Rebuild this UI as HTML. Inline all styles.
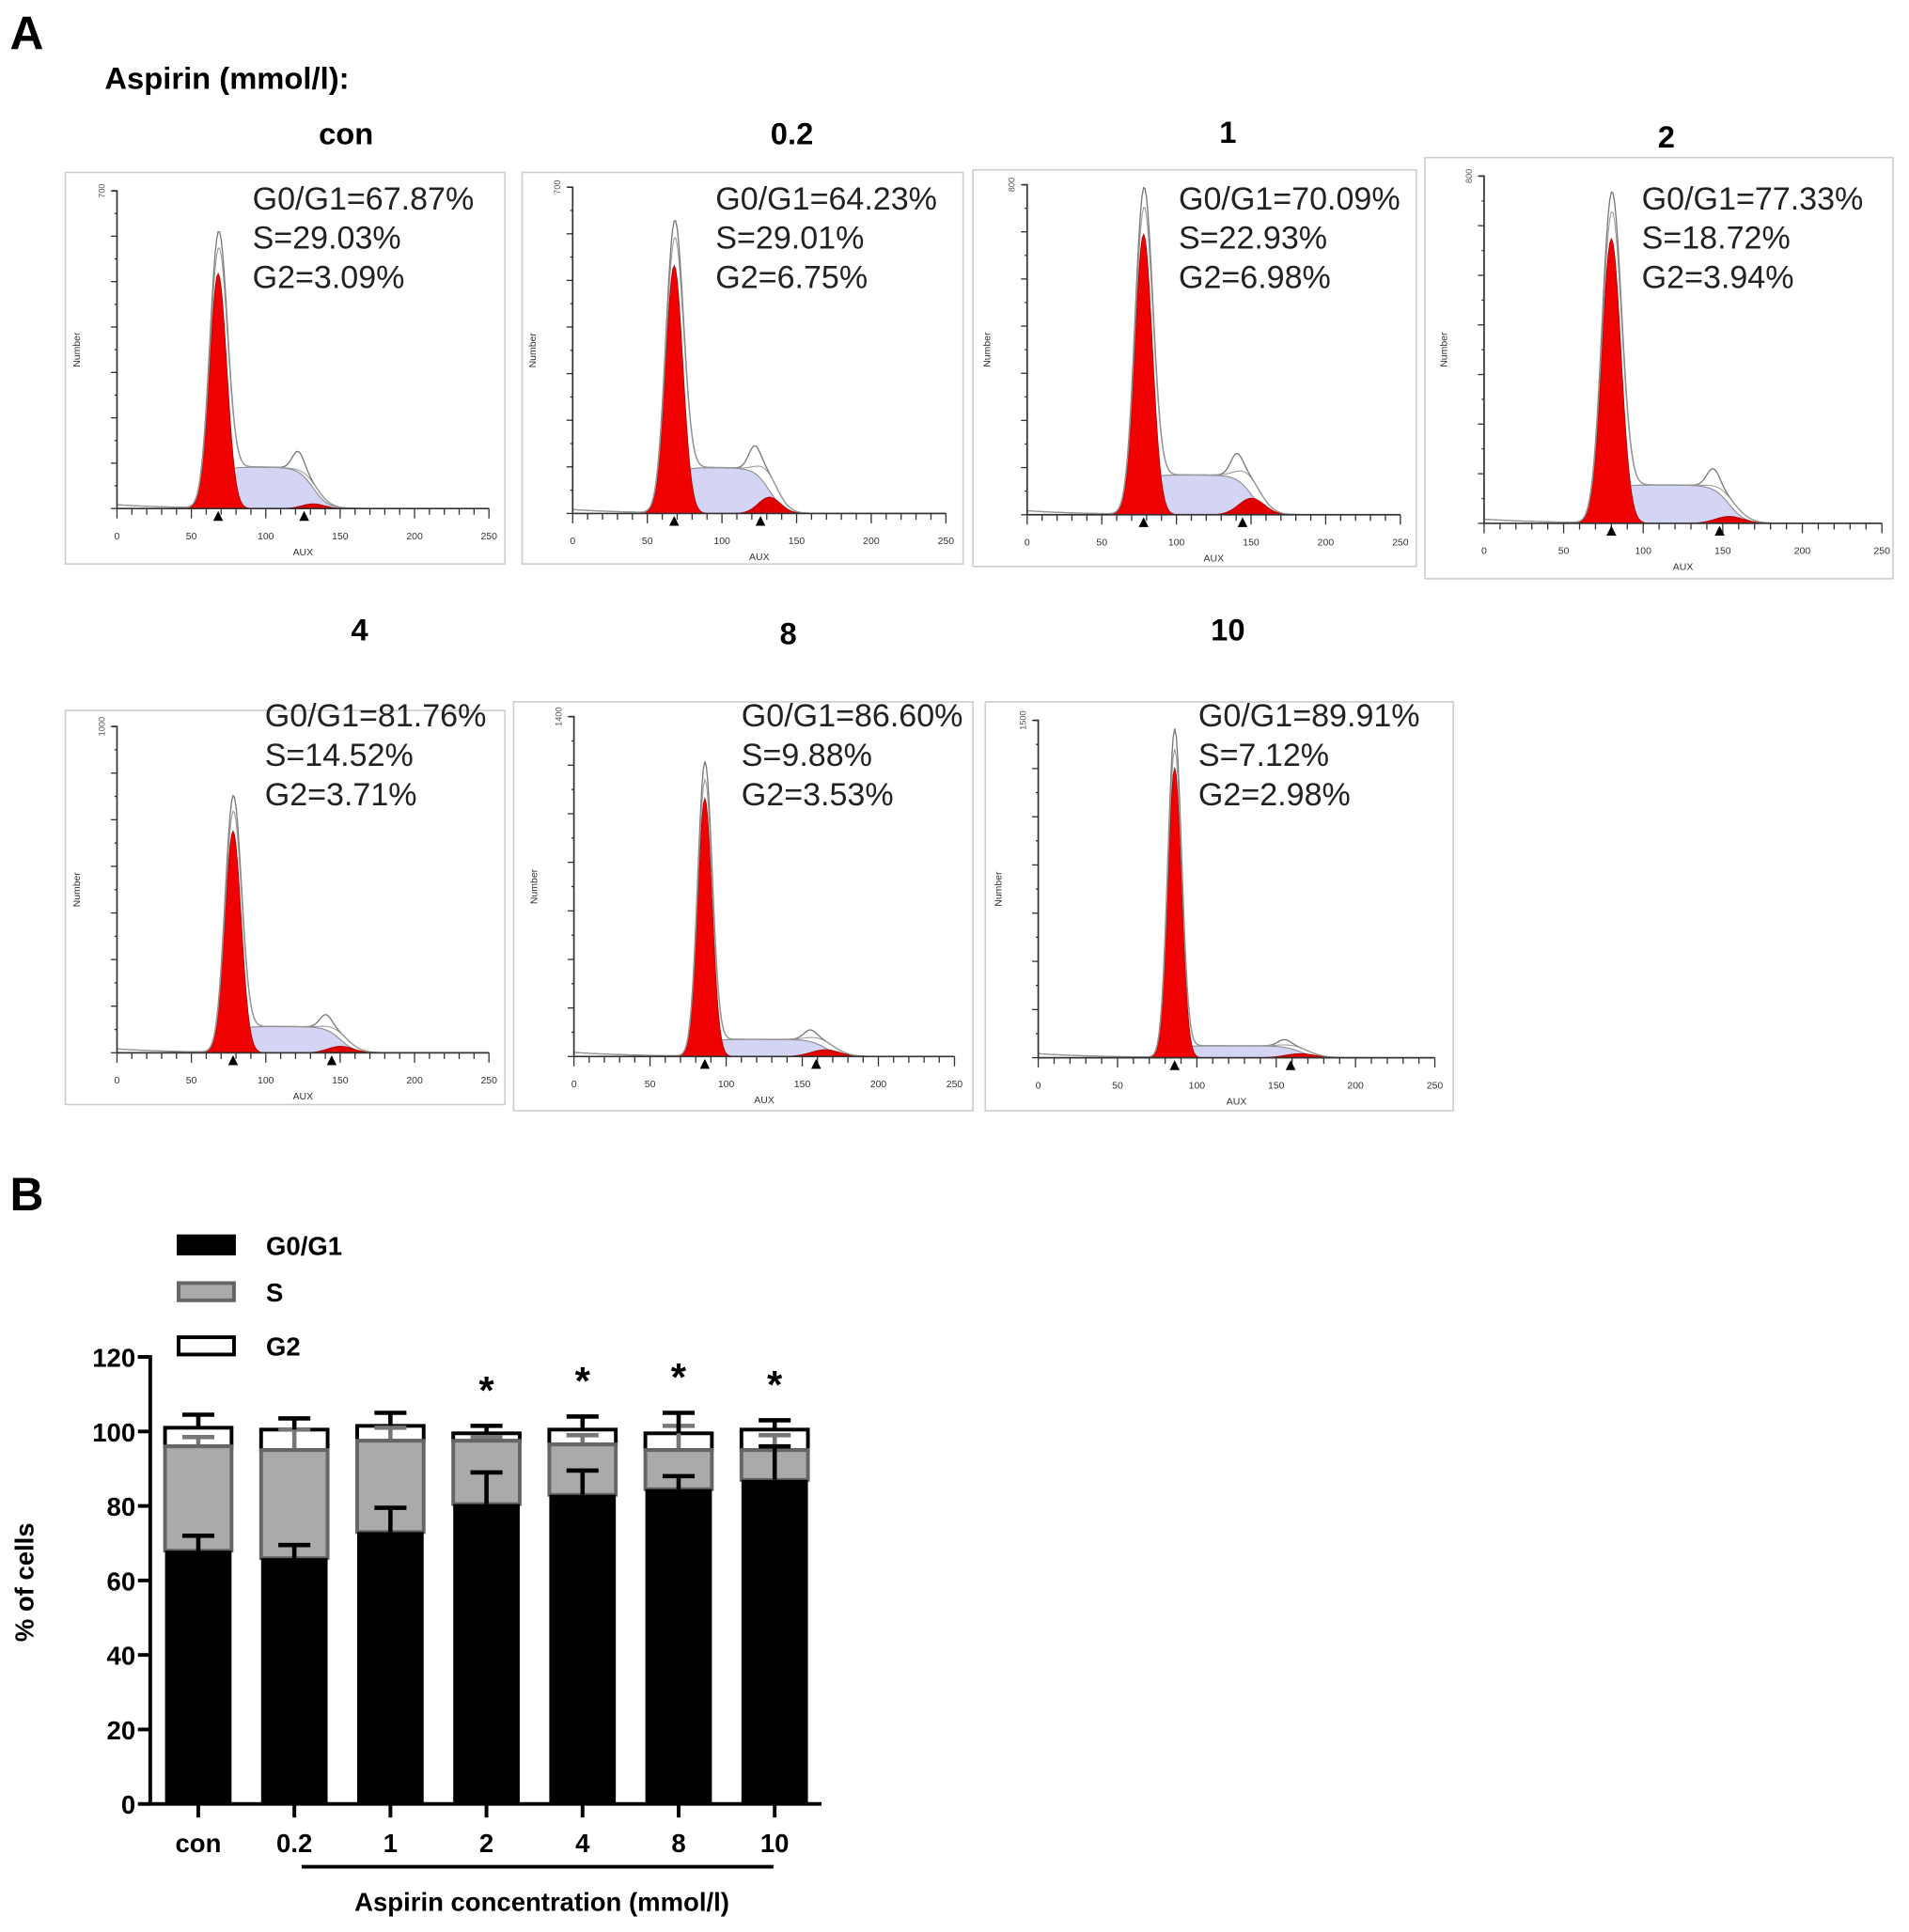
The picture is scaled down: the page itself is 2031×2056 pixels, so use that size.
<!DOCTYPE html>
<html><head><meta charset="utf-8"><style>
html,body{margin:0;padding:0;background:#fff;}
svg{display:block;}
text{font-family:"Liberation Sans",Arial,sans-serif;}
</style></head><body>
<svg id="fig" width="2031" height="2056" viewBox="0 0 1550 1569" preserveAspectRatio="none" xmlns="http://www.w3.org/2000/svg">
<text x="8" y="40" font-size="38" font-weight="bold">A</text>
<text x="85" y="72" font-size="25" font-weight="bold">Aspirin (mmol/l):</text>
<g id="histos"></g>
<text x="8" y="983" font-size="38" font-weight="bold">B</text>
<g id="bars"></g>
</svg>
<script>
// ---- Panel A data ----
const histTitles = ["con","0.2","1","2","4","8","10"];
const histG1 = ["67.87","64.23","70.09","77.33","81.76","86.60","89.91"];
const histS = ["29.03","29.01","22.93","18.72","14.52","9.88","7.12"];
const histG2 = ["3.09","6.75","6.98","3.94","3.71","3.53","2.98"];
const histMu = [68,68,78,80,78,86,86];
const histPeak = [0.74,0.76,0.85,0.82,0.68,0.76,0.86];
const histSh = [0.13,0.14,0.12,0.11,0.08,0.05,0.035];
const histG2h = [0.015,0.05,0.05,0.02,0.02,0.02,0.012];
const histSd = [0.085,0.085,0.075,0.075,0.07,0.055,0.05];
const histYmax = ["700","700","800","800","1000","1400","1500"];
// layout (not data)
const boxes=[[53,140,357,318,95,397,413,155,205,161,281,108],[424,140,358,318,465,768,417,152,581,161,643,108],
[790,138,360,322,834,1137,418,150,957,161,997,107],[1157,128,380,342,1205,1528,425,143,1333,161,1353,111],
[53,577,357,320,95,397,855,590,215,581,292,511],[417,570,373,332,466,775,858,582,602,581,640,514],
[800,570,380,332,843,1165,859,585,973,581,997,511]];
const NS="http://www.w3.org/2000/svg";
function mk(tag,attrs,parent){const e=document.createElementNS(NS,tag);for(const k in attrs)e.setAttribute(k,attrs[k]);parent.appendChild(e);return e;}
const hg=document.getElementById('histos');
boxes.forEach((b,i)=>{
  const [bx,by,bw,bh,ax,ax1,yz,yt,tx,ty,ttx,tty]=b;
  const g=mk('g',{},hg);
  
  
  const t=mk('text',{x:ttx,y:tty+9,'font-size':25,'font-weight':'bold','text-anchor':'middle'},g);t.textContent=histTitles[i];
  
  
  const r=mk('rect',{x:bx,y:by,width:bw,height:bh,fill:'#fff',stroke:'#ccc','stroke-width':1.2},g);
  
  
  const X=c=>ax+(ax1-ax)*c/250, H=yz-yt, Y=f=>yz-H*f;
  const mu=histMu[i],sd=mu*histSd[i],mu2=mu*1.85,sd2=mu*0.11;
  const g1=c=>histPeak[i]*Math.exp(-0.5*((c-mu)/sd)**2);
  const sP=c=>{const a=1/(1+Math.exp(-(c-mu-2)/2.5)),d=1/(1+Math.exp((c-mu2-6)/5));return histSh[i]*a*d;};
  const g2=c=>histG2h[i]*Math.exp(-0.5*((c-mu2-6)/sd2)**2);
  let pS=`M${X(mu-10)},${yz}`,pR=`M${X(mu-25)},${yz}`,pR2=`M${X(mu2-30)},${yz}`,pE='',pE2='';
  for(let c=0;c<=250;c+=1){
    const bg=0.012*Math.exp(-c/40);
    if(c>=mu-10&&c<=mu2+40)pS+=` L${X(c)},${Y(sP(c))}`;
    if(c>=mu-25&&c<=mu+25)pR+=` L${X(c)},${Y(g1(c))}`;
    if(c>=mu2-30&&c<=mu2+35)pR2+=` L${X(c)},${Y(g2(c))}`;
    const env=g1(c)*1.12+sP(c)+g2(c)+bg+histSh[i]*0.45*Math.exp(-0.5*((c-mu2+4)/4)**2);
    pE+=(c?' L':'M')+X(c)+','+Y(env);
    pE2+=(c?' L':'M')+X(c)+','+Y(g1(c)*1.05+sP(c)+g2(c)+bg);
  }
  pS+=` L${X(mu2+40)},${yz} Z`;pR+=` L${X(mu+25)},${yz} Z`;pR2+=` L${X(mu2+35)},${yz} Z`;
  const s=mk('path',{d:pS,fill:'#d4d4f4',stroke:'#888','stroke-width':0.8},g);
  
  
  const rr=mk('path',{d:pR,fill:'#f00000',stroke:'#a00','stroke-width':0.6},g);
  
  
  const r2=mk('path',{d:pR2,fill:'#e00000',stroke:'#a00','stroke-width':0.6},g);
  
  
  mk('path',{d:pE,fill:'none',stroke:'#777','stroke-width':1},g);
  mk('path',{d:pE2,fill:'none',stroke:'#999','stroke-width':0.8},g);
  const ya=mk('path',{d:`M${ax-4},${yt} H${ax} V${yz} H${ax1}`,fill:'none',stroke:'#333','stroke-width':1.3},g);
  
  
  for(let k=0;k<=25;k++){mk('line',{x1:X(k*10),x2:X(k*10),y1:yz,y2:yz+(k%5?5:8),stroke:'#333','stroke-width':1},g);}
  for(let k=0;k<=5;k++){const tl=mk('text',{x:X(k*50),y:yz+25,'font-size':8,'text-anchor':'middle',fill:'#333'},g);tl.textContent=k*50;}
  for(let k=0;k<=14;k++){const yy=yz-(H)*k/14;mk('line',{x1:ax-(k%2?2:5),x2:ax,y1:yy,y2:yy,stroke:'#333','stroke-width':1},g);}
  const ax2=mk('text',{x:(ax+ax1)/2,y:yz+38,'font-size':8,'text-anchor':'middle',fill:'#333'},g);ax2.textContent='AUX';
  const ny=mk('text',{x:0,y:0,'font-size':8,'text-anchor':'middle',fill:'#333',transform:`translate(${ax-30},${(yz+yt)/2}) rotate(-90)`},g);ny.textContent='Number';
  const ym=mk('text',{x:0,y:0,'font-size':7,'text-anchor':'middle',fill:'#555',transform:`translate(${ax-10},${yt}) rotate(-90)`},g);ym.textContent=histYmax[i];
  [mu,mu2].forEach(c=>mk('path',{d:`M${X(c)-4},${yz+10} L${X(c)+4},${yz+10} L${X(c)},${yz+2} Z`,fill:'#000'},g));
  const lines=['G0/G1='+histG1[i]+'%','S='+histS[i]+'%','G2='+histG2[i]+'%'];
  lines.forEach((l,j)=>{const tt=mk('text',{x:tx,y:ty+9+j*32,'font-size':26,fill:'#222'},g);tt.textContent=l;
    
    });
});

// ---- Panel B data ----
const categories=["con","0.2","1","2","4","8","10"];
const g1Vals=[68,66,73,80.5,83,84.5,87];
const sTop=[96,95,97.5,97.5,96.5,95,95];
const totalTop=[101,100.5,101.5,99.5,100.5,99.5,100.5];
const g1Err=[72,69.5,79.5,89,89.5,88,96];
const sErr=[98.5,100.5,101,98.5,99,101.5,99];
const totErr=[104.5,103.5,105,101.5,104,105,103];
const starred=[false,false,false,true,true,true,true];
const yTicks=[0,20,40,60,80,100,120];
const bg=document.getElementById('bars');
const axX=122,y0=1465,y120=1102,xEnd=667;
const yS=v=>y0-(y0-y120)*v/120;
const xS=i=>161+i*78;
const bw=54;
categories.forEach((c,i)=>{
  const cx=xS(i);
  const gG=mk('g',{},bg);
  
  
  const eb=(from,to,col)=>{mk('line',{x1:cx,x2:cx,y1:yS(from),y2:yS(to),stroke:col,'stroke-width':3.5},gG);mk('line',{x1:cx-13,x2:cx+13,y1:yS(to),y2:yS(to),stroke:col,'stroke-width':3.5},gG);};
  const w=mk('rect',{x:cx-bw/2,y:yS(totalTop[i]),width:bw,height:yS(sTop[i])-yS(totalTop[i]),fill:'#fff',stroke:'#000','stroke-width':3},gG);
  
  
  eb(sTop[i],sErr[i],'#777');
  eb(totalTop[i],totErr[i],'#000');
  const s=mk('rect',{x:cx-bw/2,y:yS(sTop[i]),width:bw,height:yS(g1Vals[i])-yS(sTop[i]),fill:'#aaa',stroke:'#666','stroke-width':3},gG);
  
  
  eb(g1Vals[i],g1Err[i],'#000');
  const k=mk('rect',{x:cx-bw/2,y:yS(g1Vals[i]),width:bw,height:y0-yS(g1Vals[i]),fill:'#000'},gG);
  
  
  mk('line',{x1:cx,x2:cx,y1:y0,y2:y0+11,stroke:'#000','stroke-width':3},gG);
  const tl=mk('text',{x:cx,y:y0+39,'font-size':21,'font-weight':'bold','text-anchor':'middle'},gG);tl.textContent=c;
  
  
  if(starred[i]){const st=mk('text',{x:cx,y:yS(totErr[i])-18,'font-size':32,'font-weight':'bold','text-anchor':'middle'},gG);st.textContent='*';
    
    }
});
const axp=mk('path',{d:`M${axX-10},${y120} H${axX} V${y0} H${xEnd}`,fill:'none',stroke:'#000','stroke-width':3},bg);


yTicks.forEach(v=>{mk('line',{x1:axX-10,x2:axX,y1:yS(v),y2:yS(v),stroke:'#000','stroke-width':3},bg);
  const t=mk('text',{x:axX-12,y:yS(v)+8,'font-size':21,'font-weight':'bold','text-anchor':'end'},bg);t.textContent=v;
  
  });
const yt=mk('text',{x:0,y:0,'font-size':21,'font-weight':'bold','text-anchor':'middle',transform:'translate(27,1285) rotate(-90)'},bg);yt.textContent='% of cells';


mk('line',{x1:245,x2:628,y1:1516,y2:1516,stroke:'#000','stroke-width':3},bg);
const xt=mk('text',{x:440,y:1552,'font-size':21,'font-weight':'bold','text-anchor':'middle'},bg);xt.textContent='Aspirin concentration (mmol/l)';


[['G0/G1','#000','#000',1011],['S','#aaa','#666',1049],['G2','#fff','#000',1093]].forEach(([lab,f,s,yy])=>{
  const lg=mk('g',{},bg);
  
  
  mk('rect',{x:145,y:yy-7,width:45,height:14,fill:f,stroke:s,'stroke-width':3},lg);
  const t=mk('text',{x:216,y:yy+8,'font-size':21,'font-weight':'bold'},lg);t.textContent=lab;
});
</script>
</body></html>
